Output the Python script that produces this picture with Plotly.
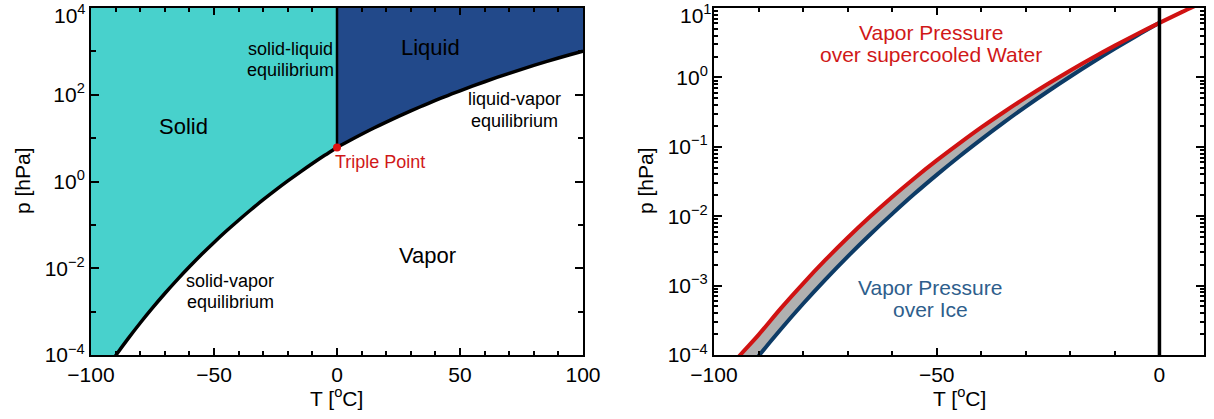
import plotly.graph_objects as go

FONT = "Liberation Sans, Arial, Helvetica, sans-serif"
W, H = 1214, 419

# Saturation vapour pressure over ice [hPa]
t_ice = [-100, -95, -90, -85, -80, -75, -70, -65, -60, -55, -50,
         -45, -40, -35, -30, -25, -20, -15, -10, -5, 0]
p_ice = [1.39e-5, 3.76e-5, 9.65e-5, 2.35e-4, 5.47e-4, 1.22e-3, 2.62e-3,
         5.41e-3, 1.08e-2, 2.10e-2, 3.94e-2, 7.20e-2, 0.128, 0.223, 0.380,
         0.632, 1.03, 1.65, 2.60, 4.02, 6.11]

# Saturation vapour pressure over (supercooled) liquid water [hPa]
t_water = [-100, -95, -90, -85, -80, -75, -70, -65, -60, -55, -50,
           -45, -40, -35, -30, -25, -20, -15, -10, -5, 0, 5, 10]
p_water = [3.3e-5, 8.6e-5, 1.95e-4, 4.7e-4, 1.07e-3, 2.34e-3, 4.89e-3,
           9.80e-3, 1.89e-2, 3.53e-2, 6.36e-2, 0.111, 0.190, 0.315, 0.511,
           0.810, 1.26, 1.92, 2.87, 4.22, 6.11, 8.72, 12.3]

# Liquid-vapour equilibrium above the triple point [hPa]
t_boil = [0, 5, 10, 15, 20, 25, 30, 35, 40, 45, 50,
          55, 60, 65, 70, 75, 80, 85, 90, 95, 100]
p_boil = [6.11, 8.72, 12.3, 17.1, 23.4, 31.7, 42.5, 56.3, 73.9, 96.0, 123.5,
          157.6, 199.5, 250.3, 311.8, 385.8, 473.9, 578.7, 701.8, 845.8, 1013.4]

triple_t, triple_p = 0.0, 6.11
p_top_left = 1e4

C_SOLID = "#48D1CC"
C_LIQUID = "#22498A"
C_RED = "#D01212"
C_BLUE_LINE = "#0D3B66"
C_BLUE_TEXT = "#2E5E8C"
C_GRAY = "#B0B0B0"


def px(x):
    return x / W


def py(y):
    return 1 - y / H


fig = go.Figure()

# ---- left panel: phase diagram ----
fig.add_trace(go.Scatter(
    x=[-100] + t_ice + [0], y=[p_top_left] + p_ice + [p_top_left],
    fill="toself", fillcolor=C_SOLID, mode="none",
    xaxis="x", yaxis="y", hoverinfo="skip"))
fig.add_trace(go.Scatter(
    x=[0] + t_boil + [100], y=[p_top_left] + p_boil + [p_top_left],
    fill="toself", fillcolor=C_LIQUID, mode="none",
    xaxis="x", yaxis="y", hoverinfo="skip"))
fig.add_trace(go.Scatter(
    x=t_ice, y=p_ice, mode="lines", line=dict(color="black", width=3.5, shape="spline"),
    xaxis="x", yaxis="y"))
fig.add_trace(go.Scatter(
    x=t_boil, y=p_boil, mode="lines", line=dict(color="black", width=3.5, shape="spline"),
    xaxis="x", yaxis="y"))
fig.add_trace(go.Scatter(
    x=[triple_t, triple_t], y=[triple_p, p_top_left], mode="lines",
    line=dict(color="black", width=2.5), xaxis="x", yaxis="y"))
fig.add_trace(go.Scatter(
    x=[triple_t], y=[triple_p], mode="markers",
    marker=dict(color="#E01010", size=8), xaxis="x", yaxis="y", cliponaxis=False))

# ---- right panel: ice vs supercooled water ----
t_w_sub = [t for t in t_water if t <= 0]
p_w_sub = [p for t, p in zip(t_water, p_water) if t <= 0]
fig.add_trace(go.Scatter(
    x=t_ice + t_w_sub[::-1], y=p_ice + p_w_sub[::-1],
    fill="toself", fillcolor=C_GRAY, mode="none",
    xaxis="x2", yaxis="y2", hoverinfo="skip"))
fig.add_trace(go.Scatter(
    x=t_ice, y=p_ice, mode="lines", line=dict(color=C_BLUE_LINE, width=4, shape="spline"),
    xaxis="x2", yaxis="y2"))
fig.add_trace(go.Scatter(
    x=t_water, y=p_water, mode="lines", line=dict(color=C_RED, width=4, shape="spline"),
    xaxis="x2", yaxis="y2"))
fig.add_trace(go.Scatter(
    x=[0, 0], y=[1e-4, 10], mode="lines", line=dict(color="black", width=3.5),
    xaxis="x2", yaxis="y2"))

tickfont = dict(family=FONT, size=21, color="black")
common = dict(showline=True, linewidth=2, linecolor="black", mirror="allticks",
              ticks="inside", tickcolor="black", tickwidth=2, showgrid=False,
              zeroline=False, tickfont=tickfont, tickmode="array", automargin=False,
              ticklabeloverflow="allow")

ydom = [py(355), py(8)]

# the topmost decade labels sit at the page edge; they are placed as annotations below
fig.update_layout(
    width=W, height=H, margin=dict(l=0, r=0, t=0, b=0, autoexpand=False),
    paper_bgcolor="white", plot_bgcolor="white", showlegend=False,
    xaxis=dict(domain=[px(91), px(583)], range=[-100, 100], anchor="y",
               tickvals=[-100, -50, 0, 50, 100],
               ticktext=["\u2212100", "\u221250", "0", "50", "100"], ticklen=7,
               minor=dict(tickmode="linear", tick0=0, dtick=10,
                          ticks="inside", ticklen=4, tickwidth=1.5, tickcolor="black"),
               **common),
    yaxis=dict(domain=ydom, type="log", range=[-4, 4], anchor="x",
               tickvals=[1e-4, 1e-2, 1, 1e2, 1e4],
               ticktext=["10<sup>\u22124</sup>", "10<sup>\u22122</sup>", "10<sup>0</sup>",
                         "10<sup>2</sup>", ""], ticklen=8,
               minor=dict(tickmode="linear", tick0=0, dtick=1,
                          ticks="inside", ticklen=5, tickwidth=1.5, tickcolor="black"),
               **common),
    xaxis2=dict(domain=[px(714), px(1204)], range=[-100, 10], anchor="y2",
                tickvals=[-100, -50, 0],
                ticktext=["\u2212100", "\u221250", "0"], ticklen=7,
                minor=dict(tickmode="linear", tick0=0, dtick=10,
                           ticks="inside", ticklen=4, tickwidth=1.5, tickcolor="black"),
                **common),
    yaxis2=dict(domain=ydom, type="log", range=[-4, 1], anchor="x2",
                tickvals=[1e-4, 1e-3, 1e-2, 1e-1, 1, 10],
                ticktext=["10<sup>\u22124</sup>", "10<sup>\u22123</sup>", "10<sup>\u22122</sup>",
                          "10<sup>\u22121</sup>", "10<sup>0</sup>", ""], ticklen=8,
                minor=dict(dtick="D1", ticks="inside", ticklen=4, tickwidth=1.5,
                           tickcolor="black"),
                **common),
)


def label(text, x, y, size=18, color="black", angle=0, xanchor="center", yanchor="middle"):
    fig.add_annotation(text=text, x=px(x), y=py(y), xref="paper", yref="paper",
                       showarrow=False, textangle=angle,
                       font=dict(family=FONT, size=size, color=color),
                       xanchor=xanchor, yanchor=yanchor, borderpad=0)


# top decade labels, kept inside the page
label("10<sup>4</sup>", 87, 0, size=21, xanchor="right", yanchor="top")
label("10<sup>1</sup>", 713, 0, size=21, xanchor="right", yanchor="top")

# axis titles
label("p [hPa]", 22, 181, size=21, angle=-90)
label("T [<sup>o</sup>C]", 337, 397, size=21)
label("p [hPa]", 645, 181, size=21, angle=-90)
label("T [<sup>o</sup>C]", 959, 397, size=21)

# phase-diagram labels
label("Solid", 183, 126, size=22)
label("Liquid", 430, 47, size=22)
label("Vapor", 427, 255, size=22)
label("solid-liquid", 290, 49)
label("equilibrium", 290, 70)
label("liquid-vapor", 514, 99)
label("equilibrium", 514, 121)
label("solid-vapor", 230, 281)
label("equilibrium", 230, 302)
label("Triple Point", 334, 162, color="#D01818", xanchor="left")

# vapour-pressure labels
label("Vapor Pressure", 931, 32, size=21, color="#D01818")
label("over supercooled Water", 931, 55, size=21, color="#D01818")
label("Vapor Pressure", 930, 287, size=21, color=C_BLUE_TEXT)
label("over Ice", 930, 309, size=21, color=C_BLUE_TEXT)

fig.write_html("out.html")
